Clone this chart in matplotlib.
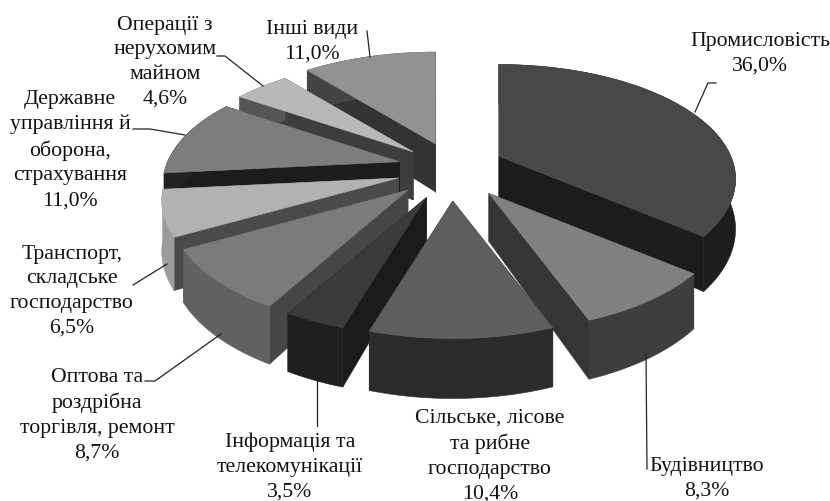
import numpy as np
import matplotlib
matplotlib.use("Agg")
import matplotlib.pyplot as plt
from matplotlib.patches import Polygon

plt.rcParams['font.family'] = ['Liberation Serif', 'DejaVu Serif']

# ---- data ----
categories = ["Промисловість", "Будівництво", "Сільське, лісове\nта рибне\nгосподарство",
              "Інформація та\nтелекомунікації", "Оптова та\nроздрібна\nторгівля, ремонт",
              "Транспорт,\nскладське\nгосподарство", "Державне\nуправління й\nоборона,\nстрахування",
              "Операції з\nнерухомим\nмайном", "Інші види"]
values = [36.0, 8.3, 10.4, 3.5, 8.7, 6.5, 11.0, 4.6, 11.0]

# ---- styles (top, start wall, end wall, outer wall) ----
colors = [("#484848", "#1b1b1b", "#1c1c1c", "#1d1d1d"),
          ("#808080", "#353535", "#353535", "#3d3d3d"),
          ("#5e5e5e", "#2c2c2c", "#2c2c2c", "#2b2b2b"),
          ("#3a3a3a", "#1a1a1a", "#1a1a1a", "#1f1f1f"),
          ("#7b7b7b", "#464646", "#464646", "#616161"),
          ("#b2b2b2", "#4a4a4a", "#4a4a4a", "#9c9c9c"),
          ("#7d7d7d", "#1c1c1c", "#1c1c1c", "#222222"),
          ("#b8b8b8", "#3d3d3d", "#3d3d3d", "#555555"),
          ("#929292", "#333333", "#333333", "#444444")]
draw_order = [8, 7, 0, 6, 5, 4, 1, 3, 2]
nudges = [(-2, 0), (6, 0), (0, 2), (-3, 1), (-4, 0), (0, 0), (2, 0), (3, 3), (3, 3)]

label_pos = [(760, 54), (707, 479), (490, 456), (290, 467), (97, 415), (72, 291), (70, 150), (165, 62), (312, 42)]
leaders = [[(716, 84), (708, 84), (695, 113)],
           [(646, 355), (647, 470)],
           None,
           [(317, 380), (317, 427)],
           [(221, 335), (155, 382), (145, 382)],
           [(167, 265), (133, 286)],
           [(185, 136), (150, 130), (133, 130)],
           [(263, 87), (225, 57), (217, 57)],
           [(370, 58), (367, 32)]]

# ---- projection ----
CX, CY = 451, 170
R, Q, K = 232, 110, 0.2
EX, EY = 55, 30
DEPTH = 48


def project(theta, mid, nudge, rad=1.0, drop=0.0):
    u, v = rad * np.sin(theta), rad * np.cos(theta)
    d = 1 + K * v
    x = CX + nudge[0] + EX * np.sin(mid) + R * u / d
    y = CY + nudge[1] - EY * np.cos(mid) - Q * v / d + drop * DEPTH / d
    return np.column_stack([x, y])


fig = plt.figure(figsize=(8.3, 5.02), dpi=100)
ax = fig.add_axes([0, 0, 1, 1])
ax.set_xlim(0, 830)
ax.set_ylim(502, 0)
ax.axis('off')

vals = np.array(values)
edges = np.concatenate([[0], np.cumsum(vals)]) / vals.sum() * 2 * np.pi


def face(pts, color, z):
    ax.add_patch(Polygon(pts, closed=True, facecolor=color, edgecolor=color, linewidth=0.4, zorder=z))


for rank, i in enumerate(draw_order):
    t1, t2 = edges[i], edges[i + 1]
    mid = (t1 + t2) / 2
    th = np.linspace(t1, t2, 80)
    c_top, c_s, c_e, c_o = colors[i]
    z = 2 + rank
    n = nudges[i]
    tip_t = project(np.array([mid]), mid, n, 0.0)
    tip_b = project(np.array([mid]), mid, n, 0.0, 1.0)
    top = project(th, mid, n)
    bot = project(th, mid, n, 1.0, 1.0)
    walls = [(top[0], bot[0], c_s), (top[-1], bot[-1], c_e)]
    walls.sort(key=lambda w: w[0][1])
    for a, b, c in walls:
        face(np.array([tip_t[0], a, b, tip_b[0]]), c, z)
    face(np.vstack([top, bot[::-1]]), c_o, z)
    face(np.vstack([tip_t, top]), c_top, z)

for name, val, (x, y), lead in zip(categories, values, label_pos, leaders):
    txt = name + "\n" + f"{val:.1f}%".replace(".", ",")
    ax.text(x, y, txt, ha='center', va='center', fontsize=15.7, linespacing=1.4, color='#111111', zorder=30)
    if lead:
        xs, ys = zip(*lead)
        ax.plot(xs, ys, color='#222222', lw=0.9, zorder=29)

fig.savefig("out.png", dpi=100, facecolor='white')
